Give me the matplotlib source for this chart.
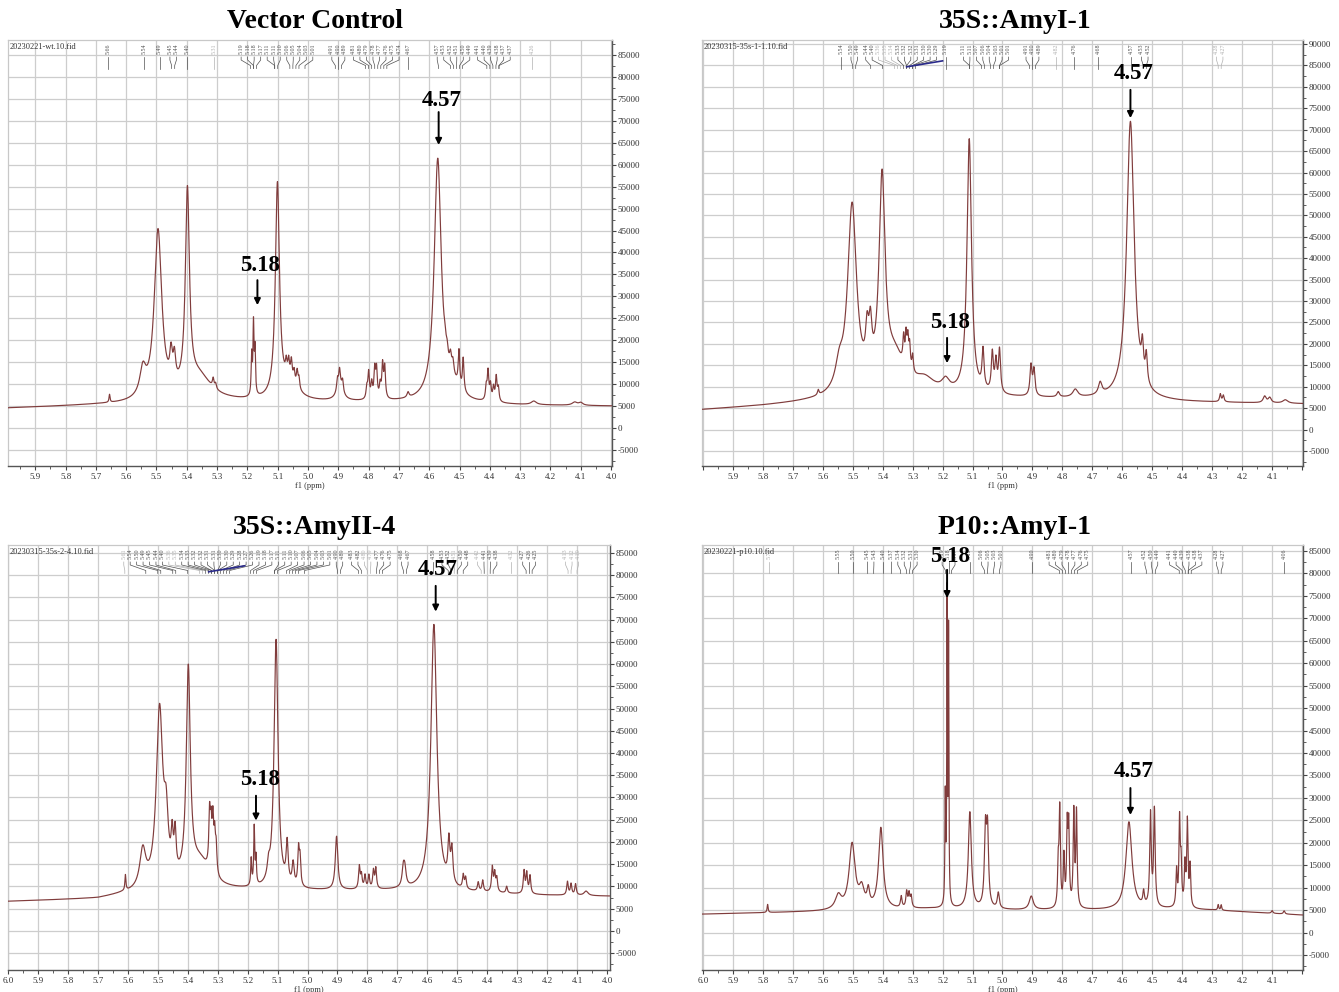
import numpy as np
import matplotlib
matplotlib.use('Agg')
import matplotlib.pyplot as plt
from matplotlib.ticker import FixedLocator, MultipleLocator

# ---------------- DATA ----------------
titles = ["Vector Control", "35S::AmyI-1", "35S::AmyII-4", "P10::AmyI-1"]
fid_names = ["20230221-wt.10.fid", "20230315-35s-1-1.10.fid",
             "20230315-35s-2-4.10.fid", "20230221-p10.10.fid"]

# x tick labels (ppm) shown on each panel
xtick_vc = [5.9, 5.8, 5.7, 5.6, 5.5, 5.4, 5.3, 5.2, 5.1, 5.0, 4.9, 4.8, 4.7, 4.6, 4.5, 4.4, 4.3, 4.2, 4.1, 4.0]
xtick_a1 = [5.9, 5.8, 5.7, 5.6, 5.5, 5.4, 5.3, 5.2, 5.1, 5.0, 4.9, 4.8, 4.7, 4.6, 4.5, 4.4, 4.3, 4.2, 4.1]
xtick_a4 = [6.0, 5.9, 5.8, 5.7, 5.6, 5.5, 5.4, 5.3, 5.2, 5.1, 5.0, 4.9, 4.8, 4.7, 4.6, 4.5, 4.4, 4.3, 4.2, 4.1, 4.0]
xtick_p10 = [6.0, 5.9, 5.8, 5.7, 5.6, 5.5, 5.4, 5.3, 5.2, 5.1, 5.0, 4.9, 4.8, 4.7, 4.6, 4.5, 4.4, 4.3, 4.2, 4.1]
ytick_max = [85000, 90000, 85000, 85000]

# Baselines (ppm, intensity)
base_ppm_vc = [6.0, 5.7, 5.25, 4.7, 4.3, 4.0]
base_val_vc = [4500, 5200, 5800, 5800, 5200, 5000]
base_ppm_a1 = [6.0, 5.8, 5.65, 5.3, 5.0, 4.7, 4.4, 4.0]
base_val_a1 = [4600, 5500, 6300, 7800, 7400, 7000, 6400, 6000]
base_ppm_a4 = [6.0, 5.7, 5.62, 5.3, 5.0, 4.7, 4.45, 4.2, 4.0]
base_val_a4 = [6600, 7200, 8000, 9000, 9000, 9000, 8500, 8000, 7800]
base_ppm_p10 = [6.0, 5.6, 5.25, 4.95, 4.65, 4.45, 4.3, 4.0]
base_val_p10 = [4100, 4700, 5300, 5000, 5000, 5200, 5000, 3900]

# Peak lists: position (ppm), amplitude, half width (ppm)
pk_pos_vc = [5.655, 5.545, 5.495, 5.452, 5.441, 5.398, 5.36, 5.313, 5.305,
             5.186, 5.180, 5.175, 5.101, 5.06, 5.072, 5.064, 5.055, 5.046, 5.036, 5.030,
             4.895, 4.903, 4.896, 4.886,
             4.806, 4.800, 4.790, 4.780, 4.774, 4.762, 4.754, 4.747,
             4.670, 4.572, 4.52, 4.548, 4.541, 4.530, 4.522, 4.502, 4.488,
             4.412, 4.406, 4.398, 4.388, 4.379, 4.372, 4.255, 4.12, 4.10]
pk_amp_vc = [1800, 6000, 38500, 6500, 6000, 45000, 5500, 2000, 1200,
             9000, 16000, 10000, 48500, 4000, 3000, 3500, 4000, 2500, 3500, 2500,
             3500, 2500, 3500, 2500,
             2500, 6000, 3500, 6500, 6500, 3000, 7500, 7000,
             1200, 55000, 2500, 2000, 2500, 3500, 3000, 8000, 7500,
             3000, 6500, 3500, 3000, 5500, 3000, 800, 700, 600]
pk_hw_vc = [0.002, 0.012, 0.015, 0.005, 0.005, 0.008, 0.05, 0.003, 0.003,
            0.002, 0.002, 0.002, 0.008, 0.03, 0.003, 0.003, 0.003, 0.003, 0.003, 0.003,
            0.012, 0.003, 0.003, 0.003,
            0.003, 0.003, 0.003, 0.003, 0.003, 0.003, 0.003, 0.003,
            0.004, 0.014, 0.03, 0.004, 0.004, 0.004, 0.004, 0.003, 0.003,
            0.003, 0.003, 0.003, 0.003, 0.003, 0.003, 0.01, 0.01, 0.008]

pk_pos_a1 = [5.615, 5.545, 5.502, 5.452, 5.441, 5.402, 5.36, 5.33, 5.322, 5.316, 5.31, 5.30,
             5.26, 5.19, 5.111, 5.065, 5.034, 5.022, 5.010, 4.905, 4.895, 4.814, 4.757,
             4.674, 4.573, 4.533, 4.520, 4.273, 4.263, 4.125, 4.108, 4.056]
pk_amp_a1 = [1200, 5000, 44000, 9000, 10000, 47500, 8000, 6000, 7000, 6500, 5500, 4000,
             3000, 2500, 59500, 9000, 9000, 7000, 10000, 7000, 6000, 1200, 1800,
             2800, 65000, 7000, 6500, 1800, 1500, 1500, 1200, 800]
pk_hw_a1 = [0.003, 0.015, 0.018, 0.006, 0.006, 0.012, 0.04, 0.003, 0.003, 0.003, 0.003, 0.003,
            0.04, 0.015, 0.009, 0.004, 0.004, 0.004, 0.004, 0.004, 0.004, 0.005, 0.01,
            0.007, 0.015, 0.004, 0.004, 0.003, 0.003, 0.006, 0.006, 0.01]

pk_pos_a4 = [5.608, 5.55, 5.494, 5.472, 5.452, 5.442, 5.398, 5.36, 5.327, 5.322, 5.316, 5.31, 5.305,
             5.188, 5.178, 5.172, 5.13, 5.105, 5.068, 5.048, 5.03, 5.025,
             4.903, 4.827, 4.82, 4.808, 4.795, 4.78, 4.772, 4.68, 4.675,
             4.578, 4.528, 4.518, 4.48, 4.472, 4.43, 4.415, 4.383, 4.375, 4.368, 4.335,
             4.277, 4.268, 4.257, 4.132, 4.12, 4.105, 4.07]
pk_amp_a4 = [3500, 8500, 40000, 12000, 8000, 9000, 47000, 6000, 12000, 9000, 11000, 8000, 6000,
             6000, 13000, 6000, 3000, 56000, 9000, 5000, 8000, 6000,
             12000, 5000, 3000, 3000, 3000, 4000, 4500, 4000, 3500,
             60000, 9000, 7500, 3000, 2500, 2000, 2500, 5500, 4000, 3000, 1500,
             5000, 4500, 4000, 3000, 2500, 2500, 1000]
pk_hw_a4 = [0.002, 0.012, 0.013, 0.008, 0.004, 0.004, 0.008, 0.04, 0.003, 0.003, 0.003, 0.003, 0.003,
            0.002, 0.002, 0.002, 0.005, 0.008, 0.004, 0.004, 0.003, 0.003,
            0.005, 0.003, 0.003, 0.003, 0.003, 0.003, 0.003, 0.005, 0.005,
            0.012, 0.004, 0.004, 0.003, 0.003, 0.003, 0.003, 0.003, 0.003, 0.003, 0.003,
            0.003, 0.003, 0.003, 0.003, 0.003, 0.003, 0.008]

pk_pos_p10 = [5.784, 5.548, 5.502, 5.47, 5.448, 5.406, 5.338, 5.32, 5.312, 5.305,
              5.191, 5.185, 5.180, 5.109, 5.057, 5.050, 5.014, 4.904,
              4.814, 4.809, 4.795, 4.784, 4.779, 4.762, 4.753,
              4.578, 4.529, 4.506, 4.493,
              4.419, 4.409, 4.404, 4.391, 4.383, 4.374, 4.28, 4.27, 4.10, 4.06]
pk_amp_p10 = [1800, 3000, 14500, 4000, 3500, 18000, 2500, 3500, 3000, 2500,
              24000, 68000, 60000, 21500, 16500, 16500, 3500, 3000,
              9000, 21500, 11000, 17000, 17000, 21000, 21000,
              19500, 3000, 20500, 21500,
              8000, 19000, 9000, 9000, 19000, 9000, 1200, 1200, 600, 700]
pk_hw_p10 = [0.002, 0.012, 0.012, 0.01, 0.005, 0.009, 0.003, 0.003, 0.003, 0.003,
             0.0015, 0.0012, 0.0012, 0.006, 0.004, 0.004, 0.004, 0.008,
             0.0025, 0.0025, 0.0025, 0.0025, 0.0025, 0.0025, 0.0025,
             0.012, 0.003, 0.003, 0.003,
             0.0025, 0.0025, 0.0025, 0.0025, 0.0025, 0.0025, 0.002, 0.002, 0.003, 0.003]

# Peak-pick labels at top of each spectrum
lab_vc = [5.66, 5.54, 5.49, 5.45, 5.44, 5.40, 5.31, 5.19, 5.18, 5.18, 5.17, 5.11, 5.11, 5.10,
          5.06, 5.05, 5.04, 5.03, 5.01, 4.91, 4.90, 4.89, 4.81, 4.80, 4.79, 4.78, 4.77, 4.76,
          4.75, 4.74, 4.67, 4.57, 4.53, 4.52, 4.51, 4.50, 4.49, 4.41, 4.40, 4.39, 4.38, 4.37,
          4.37, 4.26]
lab_light_vc = [5.31, 4.26]
lab_a1 = [5.54, 5.50, 5.49, 5.44, 5.40, 5.36, 5.35, 5.34, 5.33, 5.32, 5.32, 5.31, 5.30, 5.30,
          5.29, 5.19, 5.11, 5.11, 5.07, 5.06, 5.04, 5.03, 5.01, 5.01, 4.91, 4.90, 4.89, 4.82,
          4.76, 4.68, 4.57, 4.53, 4.52, 4.28, 4.27]
lab_light_a1 = [5.36, 5.35, 5.34, 4.82, 4.28, 4.27]
lab_a4 = [5.61, 5.54, 5.50, 5.49, 5.45, 5.44, 5.40, 5.36, 5.35, 5.34, 5.33, 5.32, 5.32, 5.31,
          5.31, 5.30, 5.30, 5.29, 5.28, 5.27, 5.26, 5.19, 5.18, 5.17, 5.11, 5.11, 5.10, 5.07,
          5.06, 5.05, 5.04, 5.03, 5.01, 4.90, 4.89, 4.83, 4.82, 4.80, 4.79, 4.77, 4.76, 4.75,
          4.68, 4.67, 4.58, 4.53, 4.52, 4.51, 4.50, 4.48, 4.42, 4.41, 4.39, 4.38, 4.32, 4.27,
          4.26, 4.25, 4.13, 4.12, 4.10]
lab_light_a4 = [5.61, 5.36, 5.35, 4.80, 4.79, 4.51, 4.42, 4.32, 4.13, 4.12, 4.10]
lab_p10 = [5.78, 5.55, 5.50, 5.45, 5.43, 5.40, 5.37, 5.34, 5.32, 5.31, 5.30, 5.19, 5.18, 5.17,
           5.11, 5.06, 5.05, 5.03, 5.01, 4.90, 4.81, 4.80, 4.79, 4.78, 4.77, 4.76, 4.75, 4.57,
           4.52, 4.50, 4.49, 4.41, 4.40, 4.39, 4.38, 4.38, 4.37, 4.28, 4.27, 4.06]
lab_light_p10 = [5.78]

# Highlight annotations: (label, x text, y text, x arrow, y tail, y tip)
ann_vc = [("4.57", 4.560, 74700, 4.569, 72000, 64500), ("5.18", 5.157, 37000, 5.167, 33700, 28000)]
ann_a1 = [("4.57", 4.563, 83200, 4.573, 79300, 72700), ("5.18", 5.175, 25100, 5.185, 21400, 15500)]
ann_a4 = [("4.57", 4.565, 81200, 4.572, 77600, 71800), ("5.18", 5.160, 34000, 5.172, 30400, 24800)]
ann_p10 = [("5.18", 5.175, 83700, 5.185, 80800, 74500), ("4.57", 4.563, 35800, 4.573, 32200, 26200)]

# ---------------- LAYOUT ----------------
W, H = 1339, 992
fig = plt.figure(figsize=(W / 100, H / 100), dpi=100)
SERIF = ['Liberation Serif', 'DejaVu Serif']

def rect(l, t, r, b):
    return [l / W, 1 - b / H, (r - l) / W, (b - t) / H]

panels = [
    dict(rect=rect(8, 40, 612, 466), xlim=(5.99, 3.997), ylim=(-8650, 88420),
         xt=xtick_vc, bp=base_ppm_vc, bv=base_val_vc, pp=pk_pos_vc, pa=pk_amp_vc, pw=pk_hw_vc,
         lab=lab_vc, light=lab_light_vc, ann=ann_vc, title_xy=(315, 21), blue=None),
    dict(rect=rect(702, 40, 1303, 466), xlim=(6.003, 3.997), ylim=(-8500, 90930),
         xt=xtick_a1, bp=base_ppm_a1, bv=base_val_a1, pp=pk_pos_a1, pa=pk_amp_a1, pw=pk_hw_a1,
         lab=lab_a1, light=lab_light_a1, ann=ann_a1, title_xy=(1015, 21), blue=(5.32, 5.20)),
    dict(rect=rect(8, 545, 610, 970), xlim=(6.0, 3.99), ylim=(-8800, 86790),
         xt=xtick_a4, bp=base_ppm_a4, bv=base_val_a4, pp=pk_pos_a4, pa=pk_amp_a4, pw=pk_hw_a4,
         lab=lab_a4, light=lab_light_a4, ann=ann_a4, title_xy=(315, 527), blue=(5.33, 5.21)),
    dict(rect=rect(702, 545, 1303, 970), xlim=(6.003, 3.997), ylim=(-8340, 86340),
         xt=xtick_p10, bp=base_ppm_p10, bv=base_val_p10, pp=pk_pos_p10, pa=pk_amp_p10, pw=pk_hw_p10,
         lab=lab_p10, light=lab_light_p10, ann=ann_p10, title_xy=(1015, 527), blue=None),
]


def place_labels(vals, left, d):
    vals = sorted(vals, reverse=True)
    u = [left - v for v in vals]
    groups = []
    for ui in u:
        groups.append([ui, [ui]])
        while len(groups) > 1 and groups[-2][0] + len(groups[-2][1]) * d > groups[-1][0]:
            g1 = groups.pop()
            g0 = groups.pop()
            mem = g0[1] + g1[1]
            start = np.mean(mem) - (len(mem) - 1) * d / 2
            groups.append([start, mem])
    pos = []
    for start, mem in groups:
        for k in range(len(mem)):
            pos.append(left - (start + k * d))
    return vals, pos


for i, P in enumerate(panels):
    ax = fig.add_axes(P['rect'])
    x = np.linspace(P['xlim'][0], P['xlim'][1], 8001)
    bp = np.array(P['bp'])
    bv = np.array(P['bv'])
    order = np.argsort(bp)
    y = np.interp(x, bp[order], bv[order])
    for p, a, w in zip(P['pp'], P['pa'], P['pw']):
        y = y + a / (1 + ((x - p) / w) ** 2)
    ax.plot(x, y, color='#803c3c', lw=0.85, zorder=3)

    ax.set_xlim(*P['xlim'])

    # grid & ticks
    xt_all = np.round(np.arange(4.0, 6.001, 0.1), 2)
    ax.xaxis.set_major_locator(FixedLocator(xt_all))
    ax.xaxis.set_minor_locator(MultipleLocator(0.05))
    ax.grid(True, which='major', color='#cdcdcd', lw=0.9, zorder=0)
    ax.set_axisbelow(True)
    shown = set(np.round(P['xt'], 2))
    ax.set_xticklabels(['%.1f' % v if round(v, 2) in shown else '' for v in xt_all],
                       family=SERIF, fontsize=6.5, color='#333333')
    ax.yaxis.tick_right()
    yt = np.arange(-5000, ytick_max[i] + 1, 5000)
    ax.set_yticks(yt)
    ax.yaxis.set_minor_locator(MultipleLocator(2500))
    ax.set_yticklabels([str(int(v)) for v in yt], family=SERIF, fontsize=6.5, color='#333333')
    ax.set_ylim(*P['ylim'])
    ax.tick_params(axis='x', which='major', direction='out', length=3, width=0.8, pad=2, color='#444444')
    ax.tick_params(axis='x', which='minor', direction='out', length=2, width=0.6, color='#444444')
    ax.tick_params(axis='y', which='major', direction='out', length=3, width=0.8, pad=1, color='#444444')
    ax.tick_params(axis='y', which='minor', direction='out', length=2, width=0.6, color='#444444')
    ax.set_xlabel('f1 (ppm)', family=SERIF, fontsize=6, labelpad=1, color='#333333')
    for s in ['left', 'top']:
        ax.spines[s].set_color('#c8c8c8')
        ax.spines[s].set_linewidth(0.9)
    for s in ['right', 'bottom']:
        ax.spines[s].set_color('#555555')
        ax.spines[s].set_linewidth(1.0)

    # file name
    ax.text(0.003, 0.993, fid_names[i], transform=ax.transAxes, ha='left', va='top',
            family=SERIF, fontsize=6, color='#333333', zorder=5)

    # peak labels
    tr = ax.get_xaxis_transform()
    vals, pos = place_labels(P['lab'], P['xlim'][0], 0.0215)
    light = set(P['light'])
    for v, px in zip(vals, pos):
        col = '#b0b0b0' if v in light else '#505050'
        ax.text(px, 0.992, '%.2f' % v, transform=tr, rotation=90, ha='center', va='top',
                family=SERIF, fontsize=4.3, color=col, zorder=5)
        ax.plot([px, px, v, v], [0.960, 0.953, 0.940, 0.933], transform=tr,
                color=col, lw=0.5, zorder=5)
    if P['blue'] is not None:
        ax.plot([P['blue'][0], P['blue'][1]], [0.937, 0.951], transform=tr,
                color='#2a2a8a', lw=1.2, zorder=6)

    # highlight annotations
    for lab, xt_, yt_, xa, ytail, ytip in P['ann']:
        ax.text(xt_, yt_, lab, ha='center', va='center', family=SERIF,
                fontsize=16.5, fontweight='bold', color='black', zorder=7)
        ax.annotate('', xy=(xa, ytip), xytext=(xa, ytail),
                    arrowprops=dict(arrowstyle='-|>', color='black', lw=1.4,
                                    mutation_scale=9, shrinkA=0, shrinkB=0), zorder=7)

    fig.text(P['title_xy'][0] / W, 1 - P['title_xy'][1] / H, titles[i], ha='center', va='center',
             family=SERIF, fontsize=20, fontweight='bold', color='black')

fig.savefig('out.png', dpi=100, facecolor='white')
